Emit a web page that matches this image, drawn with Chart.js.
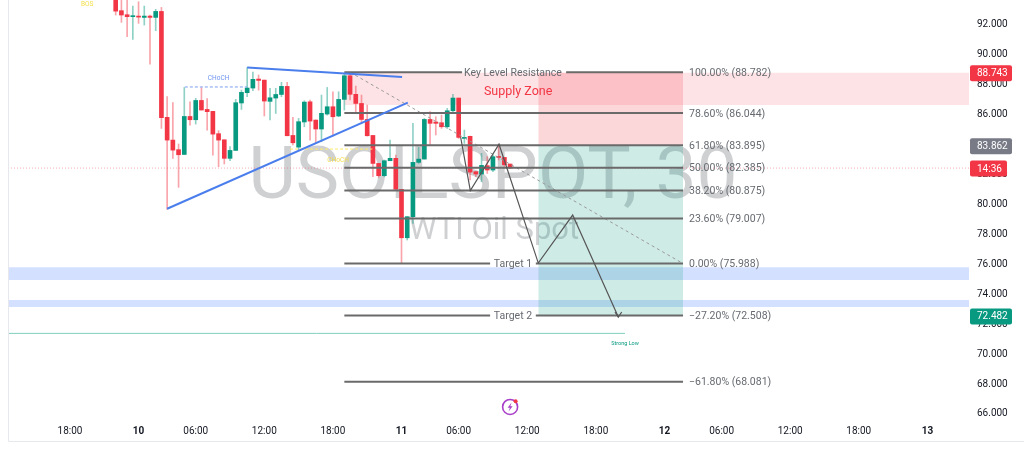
<!DOCTYPE html>
<html>
<head>
<meta charset="utf-8">
<title>USOILSPOT, 30</title>
<style>
  html, body { margin: 0; padding: 0; background: #fff; }
  canvas { display: block; }
</style>
<script src="https://cdn.jsdelivr.net/npm/chart.js@4"></script>
</head>
<body>
<canvas id="oilChart" width="1024" height="455"></canvas>
<script>
// 30 minute candles
var opens = [93.82,92.89,92.62,92.49,92.53,92.44,92.53,92.44,92.84,85.76,84.24,83.60,83.28,85.82,85.60,86.89,86.29,86.16,84.67,84.26,83.02,83.55,86.72,87.41,87.72,88.32,88.25,86.83,87.05,87.29,87.83,84.55,83.77,85.45,86.80,85.58,84.98,85.98,86.47,85.85,86.96,88.54,87.30,86.69,85.62,84.55,82.68,81.86,82.86,83.02,80.95,77.71,79.12,82.75,82.97,85.62,85.45,85.40,85.13,86.20,87.05,84.35,84.49,82.13,81.97,82.53,82.24,83.13,83.08,82.64];
var highs = [94.50,94.00,93.70,93.20,93.49,93.20,92.60,92.98,93.11,87.14,86.74,83.98,87.76,86.80,87.03,87.74,87.01,86.16,84.87,84.26,83.80,86.96,87.58,89.08,88.79,88.59,88.25,87.70,87.70,88.10,88.10,85.76,85.69,86.87,86.92,85.58,87.25,87.76,87.47,87.47,88.70,88.74,87.85,87.25,86.58,84.55,82.68,82.91,84.24,83.24,80.95,79.12,85.36,83.75,85.69,86.14,85.80,85.91,86.36,87.30,87.05,84.91,84.51,82.13,83.35,83.13,83.24,83.98,83.08,82.64];
var lows = [92.60,92.11,91.15,90.97,92.04,91.93,89.32,91.55,85.02,79.61,83.02,81.08,83.28,85.24,85.31,86.25,84.91,83.24,82.46,82.64,82.86,83.55,86.29,87.14,87.54,87.58,85.85,85.58,86.02,87.14,84.53,83.91,83.57,85.13,84.24,84.06,84.13,85.91,84.51,85.80,86.25,86.92,86.03,85.36,84.51,81.79,81.75,81.79,82.86,80.95,76.00,77.56,78.67,82.68,82.97,83.91,84.58,85.02,85.02,86.14,84.35,84.02,81.57,81.79,81.46,82.01,82.13,82.91,82.35,82.35];
var closes = [92.86,92.60,92.49,92.55,92.46,92.53,92.44,92.84,85.74,84.24,83.57,83.26,85.82,85.60,86.89,86.25,86.14,84.64,84.24,83.02,83.55,86.74,87.43,87.72,88.30,88.23,86.85,87.07,87.29,87.83,84.53,84.06,85.47,86.78,85.51,84.98,86.03,86.47,85.80,86.96,88.54,87.30,86.69,85.62,84.53,82.68,81.86,82.86,83.02,80.95,77.71,79.12,82.75,82.97,85.62,85.36,85.36,85.13,86.20,87.05,84.42,84.42,82.10,81.97,82.55,82.24,83.13,83.08,82.59,82.37];

var priceTicks = [66,68,70,72,74,76,78,80,82,84,86,88,90,92];
var timeTickBars = [-8,4,14,26,38,50,60,72,84,96,106,118,130,142];
var timeTickLabels = ["18:00","10","06:00","12:00","18:00","11","06:00","12:00","18:00","12","06:00","12:00","18:00","13"];

var fibLevels = [88.782,86.044,83.895,82.385,80.875,79.007,75.988,72.508,68.081];
var fibLabels = ["100.00% (88.782)","78.60% (86.044)","61.80% (83.895)","50.00% (82.385)","38.20% (80.875)","23.60% (79.007)","0.00% (75.988)","\u221227.20% (72.508)","\u221261.80% (68.081)"];

var lastPrice = 82.37;
var stopPrice = 88.743;
var entryPrice = 83.862;
var targetPrice = 72.482;
var strongLow = 71.32;

var xMin = -18.84, xMax = 149.28;
var yMin = 65.53, yMax = 93.604;
var fibStart = 40, fibEnd = 99.25, boxStart = 73.93;

var red = "#f23645", green = "#089981", fibGrey = "#6a6a6a", textGrey = "#666a70";

var bars = opens.map(function (o, i) { return i; });

function flat(x0, x1, y) {
  return [{ x: x0, y: y }, { x: x1, y: y }];
}
function seg(points, color, width, dash, order) {
  return {
    type: "line",
    data: points.map(function (p) { return { x: p[0], y: p[1] }; }),
    borderColor: color,
    borderWidth: width,
    borderDash: dash || [],
    pointRadius: 0,
    tension: 0,
    fill: false,
    order: order
  };
}
function zone(x0, x1, low, high, color, order) {
  return {
    type: "line",
    data: flat(x0, x1, high),
    borderWidth: 0,
    pointRadius: 0,
    backgroundColor: color,
    fill: { value: low },
    order: order
  };
}

var datasets = [
  zone(xMin, xMax, 74.89, 75.74, "rgba(41,98,255,0.2)", 9),
  zone(xMin, xMax, 73.08, 73.55, "rgba(41,98,255,0.2)", 9),
  zone(fibStart, xMax, 86.59, stopPrice, "rgba(242,54,69,0.14)", 9),
  zone(boxStart, fibEnd, entryPrice, stopPrice, "rgba(242,54,69,0.2)", 8),
  zone(boxStart, fibEnd, targetPrice, entryPrice, "rgba(8,153,129,0.2)", 8),
  seg([[xMin, lastPrice], [xMax, lastPrice]], "rgba(242,54,69,0.4)", 1, [1, 2], 7),
  seg([[xMin, strongLow], [89.1, strongLow]], "#7fd0bf", 1, null, 7),
  {
    type: "bar",
    grouped: false,
    barThickness: 1,
    data: bars.map(function (i) { return { x: i, y: [lows[i], highs[i]] }; }),
    backgroundColor: bars.map(function (i) { return closes[i] < opens[i] ? "rgba(242,54,69,0.45)" : "rgba(8,153,129,0.45)"; }),
    order: 6
  },
  {
    type: "bar",
    grouped: false,
    barThickness: 4,
    minBarLength: 1,
    data: bars.map(function (i) { return { x: i, y: [opens[i], closes[i]] }; }),
    backgroundColor: bars.map(function (i) { return closes[i] < opens[i] ? red : green; }),
    order: 5
  },
  seg([[12.1, 87.79], [23, 87.79]], "#7c9ff0", 1, [3, 2], 4),
  seg([[30.5, 83.64], [44.9, 83.64]], "#ffeb6b", 1, [3, 2], 4),
  seg([[41, 88.78], [99.25, 75.99]], "#9a9a9a", 1, [3, 3], 4)
];

// fib levels, three of them broken around their text
fibLevels.forEach(function (level, n) {
  var gap = null;
  if (n === 0) gap = [60.6, 78.8];
  if (n === 6 || n === 7) gap = [65.5, 73.5];
  if (gap) {
    datasets.push(seg([[fibStart, level], [gap[0], level]], fibGrey, 2, null, 3));
    datasets.push(seg([[gap[1], level], [fibEnd, level]], fibGrey, 2, null, 3));
  } else {
    datasets.push(seg([[fibStart, level], [fibEnd, level]], fibGrey, 2, null, 3));
  }
});

datasets.push(seg([[23, 89.09], [50.1, 88.46]], "#4a7eec", 2, null, 2));
datasets.push(seg([[9, 79.65], [51.1, 86.74]], "#4a7eec", 2, null, 2));
datasets.push(seg([[60.35, 84.43], [62.04, 80.86], [67.06, 83.96], [73.93, 76.02], [79.95, 79.23], [87.93, 72.41]], "#555", 1.2, null, 1));
datasets.push(seg([[87.35, 72.75], [87.93, 72.41], [88.52, 72.75]], "#555", 1.2, null, 1));

var notes = [
  ["Key Level Resistance", 69.5, 88.78, "10.5px Roboto", textGrey],
  ["Supply Zone", 70.4, 87.55, "12.5px Roboto", red],
  ["Target 1", 69.5, 75.99, "10.5px Roboto", textGrey],
  ["Target 2", 69.5, 72.51, "10.5px Roboto", textGrey],
  ["CHoCH", 18, 88.45, "6.5px Roboto", "#6f95ee"],
  ["CHoCH", 38.9, 82.97, "6.5px Roboto", "#f2dc4a"],
  ["BOS", -5, 93.4, "6.5px Roboto", "#f4e04d"],
  ["Strong Low", 89.1, 70.68, "5.5px Roboto", green]
];

var tags = [
  ["88.743", stopPrice, red, 42],
  ["83.862", entryPrice, "#787b86", 42],
  ["14:36", lastPrice, red, 37],
  ["72.482", targetPrice, green, 42]
];

var watermark = {
  id: "watermark",
  beforeDatasetsDraw: function (chart) {
    var c = chart.ctx, x = chart.scales.x, y = chart.scales.y;
    c.save();
    c.fillStyle = "rgba(110,112,118,0.33)";
    c.textAlign = "center";
    c.textBaseline = "alphabetic";
    c.font = "73px Roboto";
    c.fillText("USOILSPOT, 30", x.getPixelForValue(66), y.getPixelForValue(80.37), 497);
    c.font = "31px Roboto";
    c.fillText("WTI Oil Spot", x.getPixelForValue(66.2), y.getPixelForValue(77.63));
    c.restore();
  }
};

var overlay = {
  id: "overlay",
  afterDraw: function (chart) {
    var c = chart.ctx, x = chart.scales.x, y = chart.scales.y;
    c.save();
    c.textBaseline = "middle";

    // fib labels to the right of the levels
    c.textAlign = "left";
    c.font = "10.5px Roboto";
    c.fillStyle = textGrey;
    fibLabels.forEach(function (label, n) {
      c.fillText(label, x.getPixelForValue(100.3), y.getPixelForValue(fibLevels[n]) + 1);
    });

    c.textAlign = "center";
    notes.forEach(function (n) {
      c.font = n[3];
      c.fillStyle = n[4];
      c.fillText(n[0], x.getPixelForValue(n[1]), y.getPixelForValue(n[2]) + 1);
    });

    // price tags sit on top of the axis labels
    tags.forEach(function (t) {
      var py = y.getPixelForValue(t[1]) + 0.5;
      c.fillStyle = t[2];
      c.beginPath();
      c.roundRect(970, py - 8, t[3], 16, 2);
      c.fill();
      c.fillStyle = "#fff";
      c.font = "10px Roboto";
      c.textAlign = "left";
      c.fillText(t[0], 977, py + 0.5);
    });

    // frame on the left and bottom
    c.strokeStyle = "#e6e8ee";
    c.lineWidth = 1;
    c.beginPath();
    c.moveTo(8.5, 0);
    c.lineTo(8.5, 441.5);
    c.lineTo(1024, 441.5);
    c.stroke();

    // the little bolt icon under the chart
    var ix = x.getPixelForValue(69), iy = y.getPixelForValue(66.4);
    c.strokeStyle = "#a83fc9";
    c.lineWidth = 1.6;
    c.beginPath();
    c.arc(ix, iy, 7.5, 0, Math.PI * 2);
    c.stroke();
    c.fillStyle = "#a83fc9";
    c.beginPath();
    c.moveTo(ix + 1.5, iy - 4.5);
    c.lineTo(ix - 2.5, iy + 0.8);
    c.lineTo(ix - 0.2, iy + 0.8);
    c.lineTo(ix - 1.5, iy + 4.5);
    c.lineTo(ix + 2.5, iy - 0.8);
    c.lineTo(ix + 0.2, iy - 0.8);
    c.closePath();
    c.fill();
    c.fillStyle = "#f23645";
    c.beginPath();
    c.arc(ix + 5.5, iy - 5.8, 2, 0, Math.PI * 2);
    c.fill();
    c.restore();
  }
};

new Chart(document.getElementById("oilChart"), {
  type: "line",
  data: { datasets: datasets },
  plugins: [watermark, overlay],
  options: {
    responsive: false,
    animation: false,
    parsing: { xAxisKey: "x", yAxisKey: "y" },
    layout: { padding: { left: 8, top: 0, right: 0, bottom: 13 } },
    plugins: { legend: { display: false }, tooltip: { enabled: false } },
    scales: {
      x: {
        type: "linear",
        min: xMin,
        max: xMax,
        offset: false,
        grid: { display: false, drawTicks: false },
        border: { display: false },
        afterFit: function (scale) {
          scale.height = 22;
          scale.paddingLeft = 0;
          scale.paddingRight = 0;
        },
        afterBuildTicks: function (scale) {
          scale.ticks = timeTickBars.map(function (v) { return { value: v }; });
        },
        ticks: {
          autoSkip: false,
          maxRotation: 0,
          padding: 5,
          color: "#131722",
          font: function (ctx) {
            var label = timeTickLabels[timeTickBars.indexOf(ctx.tick && ctx.tick.value)];
            var isDay = label && label.length === 2;
            return { family: "Roboto", size: 10, weight: isDay ? "bold" : "normal" };
          },
          callback: function (value) {
            return timeTickLabels[timeTickBars.indexOf(value)];
          }
        }
      },
      y: {
        type: "linear",
        position: "right",
        min: yMin,
        max: yMax,
        grid: { display: false, drawTicks: false },
        border: { display: false },
        afterFit: function (scale) {
          scale.width = 55;
          scale.paddingTop = 0;
          scale.paddingBottom = 0;
        },
        afterBuildTicks: function (scale) {
          scale.ticks = priceTicks.map(function (v) { return { value: v }; });
        },
        ticks: {
          padding: 8,
          labelOffset: 1,
          color: "#131722",
          font: { family: "Roboto", size: 10 },
          callback: function (value) { return value.toFixed(3); }
        }
      }
    }
  }
});
</script>
</body>
</html>
